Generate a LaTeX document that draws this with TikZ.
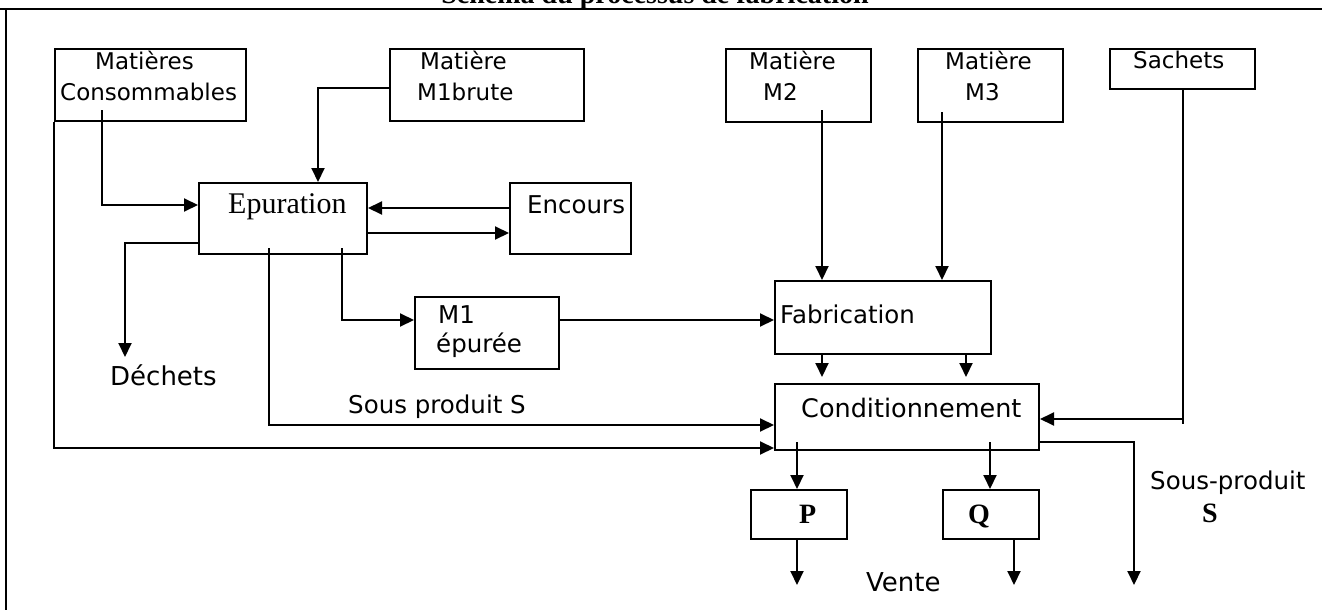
\documentclass[tikz,border=0pt]{standalone}
\usepackage{fontspec}
\setmainfont{Liberation Serif}
\newfontfamily\dvsans{DejaVu Sans}
\usetikzlibrary{arrows.meta}
\tikzset{
  box/.style={draw, line width=2pt, inner sep=0pt, anchor=north west},
  conn/.style={line width=2pt},
  arr/.style={line width=2pt, -{Triangle[length=14pt,width=13pt]}},
  lbl/.style={inner sep=0pt, anchor=base west, font=\dvsans\fontsize{24.5}{28}\selectfont},
  toplbl/.style={inner sep=0pt, anchor=base west, font=\dvsans\fontsize{23}{27}\selectfont},
  serifb/.style={inner sep=0pt, anchor=base west, font=\bfseries\fontsize{28}{32}\selectfont},
}
\begin{document}
\begin{tikzpicture}[x=1pt,y=-1pt]
\useasboundingbox (0,0) rectangle (1322,610);
% title and frame
\node[inner sep=0pt, anchor=base, font=\bfseries\fontsize{28}{32}\selectfont] (title) at (655,4) {Schéma du processus de fabrication};
\draw[line width=2pt] (0,9) -- (1322,9);
\draw[line width=2pt] (6,9) -- (6,612);
% boxes
\node[box, minimum width=191pt, minimum height=72pt] (mc) at (54,48) {};
\node[box, minimum width=194pt, minimum height=72pt] (m1b) at (389,48) {};
\node[box, minimum width=145pt, minimum height=73pt] (m2) at (725,48) {};
\node[box, minimum width=145pt, minimum height=73pt] (m3) at (917,48) {};
\node[box, minimum width=145pt, minimum height=40pt] (sach) at (1109,48) {};
\node[box, minimum width=168pt, minimum height=71pt] (epu) at (198,182) {};
\node[box, minimum width=121pt, minimum height=71pt] (enc) at (509,182) {};
\node[box, minimum width=144pt, minimum height=72pt] (m1e) at (414,296) {};
\node[box, minimum width=216pt, minimum height=73pt] (fab) at (774,280) {};
\node[box, minimum width=264pt, minimum height=66pt] (cond) at (774,383) {};
\node[box, minimum width=96pt, minimum height=49pt] (P) at (750,489) {};
\node[box, minimum width=96pt, minimum height=49pt] (Q) at (942,489) {};
% labels
\node[toplbl] (t1) at (95,70) {Matières};
\node[toplbl] (t2) at (60,100) {Consommables};
\node[toplbl] (t3) at (420,70) {Matière};
\node[toplbl] (t4) at (417,100) {M1brute};
\node[toplbl] (t5) at (749,70) {Matière};
\node[toplbl] (t6) at (763,100) {M2};
\node[toplbl] (t7) at (945,70) {Matière};
\node[toplbl] (t8) at (965,100) {M3};
\node[toplbl] (t9) at (1133,69) {Sachets};
\node[inner sep=0pt, anchor=base west, font=\fontsize{30}{34}\selectfont] (t10) at (228,213) {Epuration};
\node[inner sep=0pt, anchor=base west, font=\dvsans\fontsize{24.5}{28}\selectfont] (t11) at (527,213) {Encours};
\node[lbl, font=\dvsans\fontsize{26}{30}\selectfont] (dech) at (110,385) {Déchets};
\node[lbl] (t12) at (438,323) {M1};
\node[lbl] (t13) at (436,352) {épurée};
\node[lbl] (t14) at (780,323) {Fabrication};
\node[lbl, font=\dvsans\fontsize{25.5}{30}\selectfont] (t15) at (801,417) {Conditionnement};
\node[lbl] (t16) at (348,413) {Sous produit S};
\node[serifb] (t17) at (799,523) {P};
\node[serifb] (t18) at (968,523) {Q};
\node[lbl] (t19) at (1150,489) {Sous-produit};
\node[serifb] (t20) at (1202,522) {S};
\node[lbl, font=\dvsans\fontsize{26}{30}\selectfont] (vente) at (866,591) {Vente};
% connectors
\draw[arr] (102,110) |- (epu.west |- 0,205);
\draw[arr] (m1b.west |- 0,88) -| (318,0 |- epu.north);
\draw[arr] (enc.west |- 0,208) -- (epu.east |- 0,208);
\draw[arr] (epu.east |- 0,233) -- (enc.west |- 0,233);
\draw[arr] (epu.west |- 0,243) -| (125,357);
\draw[arr] (342,248) |- (m1e.west |- 0,320);
\draw[arr] (269,248) |- (cond.west |- 0,425);
\draw[arr] (mc.south west) |- (cond.west |- 0,448);
\draw[arr] (m1e.east |- 0,320) -- (fab.west |- 0,320);
\draw[arr] (822,110) -- (822,0 |- fab.north);
\draw[arr] (942,112) -- (942,0 |- fab.north);
\draw[arr] (822,0 |- fab.south) -- (822,377);
\draw[arr] (966,0 |- fab.south) -- (966,377);
\draw[conn] (sach.south) -- (sach.south |- 0,424);
\draw[arr] (sach.south |- 0,419) -- (cond.east |- 0,419);
\draw[arr] (797,442) -- (797,0 |- P.north);
\draw[arr] (990,442) -- (990,0 |- Q.north);
\draw[arr] (797,0 |- P.south) -- (797,585);
\draw[arr] (1014,0 |- Q.south) -- (1014,585);
\draw[arr] (cond.east |- 0,442) -| (1134,585);
\end{tikzpicture}
\end{document}
